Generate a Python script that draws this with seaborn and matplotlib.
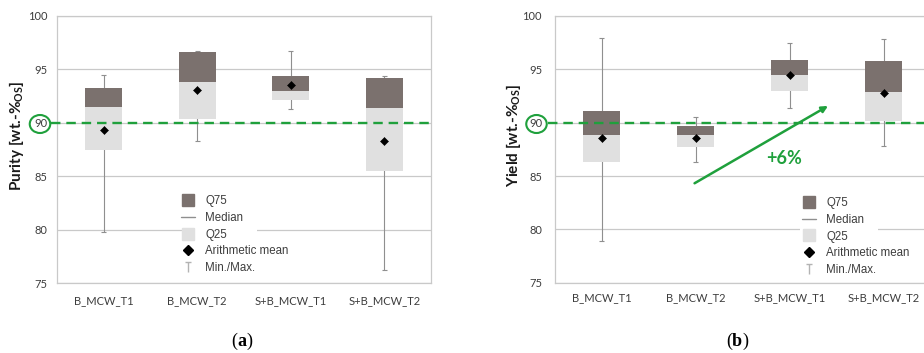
import numpy as np
import matplotlib
matplotlib.use("Agg")
import matplotlib.pyplot as plt
import seaborn as sns
from matplotlib.lines import Line2D
from matplotlib.path import Path
from matplotlib.patches import Ellipse, Rectangle
from matplotlib.offsetbox import TextArea, HPacker, AnnotationBbox

# ---- data -------------------------------------------------------------
categories = ["B_MCW_T1", "B_MCW_T2", "S+B_MCW_T1", "S+B_MCW_T2"]

purity_min = [79.8, 88.3, 91.3, 76.2]
purity_q25 = [87.5, 90.4, 92.1, 85.5]
purity_median = [91.5, 93.8, 93.0, 91.4]
purity_q75 = [93.3, 96.6, 94.4, 94.2]
purity_max = [94.5, 96.7, 96.7, 94.4]
purity_mean = [89.3, 93.1, 93.5, 88.3]

yield_min = [78.9, 86.3, 91.4, 87.8]
yield_q25 = [86.3, 87.7, 93.0, 90.2]
yield_median = [88.8, 88.8, 94.5, 92.9]
yield_q75 = [91.1, 89.7, 95.9, 95.8]
yield_max = [97.9, 90.5, 97.5, 97.8]
yield_mean = [88.6, 88.6, 94.5, 92.8]

threshold = 90
y_ticks = [75, 80, 85, 90, 95, 100]
gain_label = "+6%"
legend_labels = ["Q75", "Median", "Q25", "Arithmetic mean", "Min./Max."]

# ---- style ------------------------------------------------------------
sns.set_theme(style="white")
plt.rcParams["font.family"] = ["Lato", "DejaVu Sans"]

DARK = "#7b716e"
LIGHT = "#e0e0e0"
WHISK = "#8f8f8f"
GREEN = "#1fa03c"
GRID = "#c9c9c9"
TEXT = "#3d3d3d"

W, H = 924, 353
fig = plt.figure(figsize=(W / 100, H / 100), dpi=100)


def fx(x):
    return x / W


def fy(y):
    return 1 - y / H


ax_a = fig.add_axes([fx(57), fy(283), 374 / W, 267 / H])
ax_b = fig.add_axes([fx(554.5), fy(282.7), 376 / W, 266.7 / H])

# Min./Max. marker: vertical stem with a cap on top
tee = Path([(0, -1), (0, 1), (-0.55, 1), (0.55, 1)],
           [Path.MOVETO, Path.LINETO, Path.MOVETO, Path.LINETO])


def draw_panel(ax, q25, med, q75, lo, hi, mean, xpad, ypad):
    x = np.arange(len(categories))
    ax.vlines(x, lo, hi, color=WHISK, lw=0.8, zorder=2)
    ax.hlines(lo, x - 0.025, x + 0.025, color=WHISK, lw=0.8, zorder=2)
    ax.hlines(hi, x - 0.025, x + 0.025, color=WHISK, lw=0.8, zorder=2)

    lower = np.array(med) - np.array(q25)
    upper = np.array(q75) - np.array(med)
    sns.barplot(x=categories, y=lower, bottom=q25, color=LIGHT, width=0.4,
                saturation=1, errorbar=None, linewidth=0, zorder=3, ax=ax)
    sns.barplot(x=categories, y=upper, bottom=med, color=DARK, width=0.4,
                saturation=1, errorbar=None, linewidth=0, zorder=3, ax=ax)
    sns.pointplot(x=categories, y=mean, linestyle="none", marker="D",
                  color="black", markersize=3.6, markeredgewidth=0.4,
                  errorbar=None, zorder=5, ax=ax)

    ax.set_ylim(75, 100)
    ax.set_xlim(-0.5, 3.5)
    ax.set_yticks(y_ticks)
    ax.set_xlabel("")
    ax.set_ylabel("")
    ax.yaxis.grid(True, color=GRID, lw=0.9)
    ax.xaxis.grid(False)
    ax.set_axisbelow(True)
    for s in ax.spines.values():
        s.set_color(GRID)
        s.set_linewidth(0.9)
    ax.tick_params(axis="y", length=0, pad=ypad, labelsize=8, labelcolor=TEXT)
    ax.tick_params(axis="x", length=0, pad=xpad, labelsize=8, labelcolor=TEXT)

    # threshold line, starting just right of the ringed tick label
    ax.axhline(threshold, xmin=-0.017, xmax=1, color=GREEN, lw=1.7,
               dashes=(4, 2.5), zorder=4, clip_on=False)


draw_panel(ax_a, purity_q25, purity_median, purity_q75, purity_min,
           purity_max, purity_mean, xpad=8.5, ypad=7)
draw_panel(ax_b, yield_q25, yield_median, yield_q75, yield_min,
           yield_max, yield_mean, xpad=7, ypad=9)

# rings around the 90 tick labels
for cx in (40, 536.5):
    fig.add_artist(Ellipse((fx(cx), fy(124)), 20.5 / W, 18 / H,
                           transform=fig.transFigure, fill=False,
                           edgecolor=GREEN, lw=1.5))

# y axis titles
fig.text(fx(16.5), fy(136), "Purity [wt.-%$_\\mathregular{OS}$]", rotation=90,
         ha="center", va="center", fontsize=11, fontweight="bold", color="#1a1a1a")
fig.text(fx(513.5), fy(135), "Yield [wt.-%$_\\mathregular{OS}$]", rotation=90,
         ha="center", va="center", fontsize=11, fontweight="bold", color="#1a1a1a")

# trend arrow in the yield panel
ax_b.annotate("", xy=(2.41, 91.57), xytext=(0.99, 84.32),
              arrowprops=dict(arrowstyle="-|>", color=GREEN, lw=1.8,
                              mutation_scale=9, shrinkA=0, shrinkB=0),
              zorder=6)
ax_b.text(1.94, 86.66, gain_label, color=GREEN, fontsize=13,
          fontweight="bold", ha="center", va="center", zorder=6)

# legends
handles = [
    Line2D([], [], ls="none", marker="s", markersize=8.6, mfc=DARK, mec=DARK),
    Line2D([], [], color=WHISK, lw=1.0),
    Line2D([], [], ls="none", marker="s", markersize=8.6, mfc=LIGHT, mec=LIGHT),
    Line2D([], [], ls="none", marker="D", markersize=5.0, mfc="black", mec="black"),
    Line2D([], [], ls="none", marker=tee, markersize=7, mfc="none",
           mec="#b3b3b3", mew=1.0),
]

for ax, left, top, cover in ((ax_a, 181.2, 195.5, (182, 257)),
                             (ax_b, 802.2, 197.3, (800, 878))):
    ax.add_patch(Rectangle((fx(cover[0]), fy(272)), (cover[1] - cover[0]) / W,
                           78 / H, transform=fig.transFigure,
                           facecolor="white", edgecolor="none", zorder=1))
    leg = ax.legend(handles, legend_labels, loc="upper left",
                    bbox_to_anchor=(fx(left), fy(top)),
                    bbox_transform=fig.transFigure, frameon=False,
                    borderpad=0, borderaxespad=0, handlelength=1.2,
                    handletextpad=0.9, labelspacing=0.4,
                    prop=dict(family="Liberation Sans", size=8.3))
    for t in leg.get_texts():
        t.set_color(TEXT)


# panel tags with bold letters in parentheses
def panel_tag(ax, letter, xpix, ypix):
    serif = dict(family="Liberation Serif", size=13, color="black")
    parts = [TextArea("(", textprops=serif),
             TextArea(letter, textprops={**serif, "weight": "bold"}),
             TextArea(")", textprops=serif)]
    box = HPacker(children=parts, align="baseline", pad=0, sep=0)
    ab = AnnotationBbox(box, (fx(xpix), fy(ypix)), xycoords="figure fraction",
                        frameon=False, box_alignment=(0.5, 0.5),
                        annotation_clip=False)
    ax.add_artist(ab)


panel_tag(ax_a, "a", 242, 341)
panel_tag(ax_b, "b", 737, 341)

fig.savefig("out.png", dpi=100)
